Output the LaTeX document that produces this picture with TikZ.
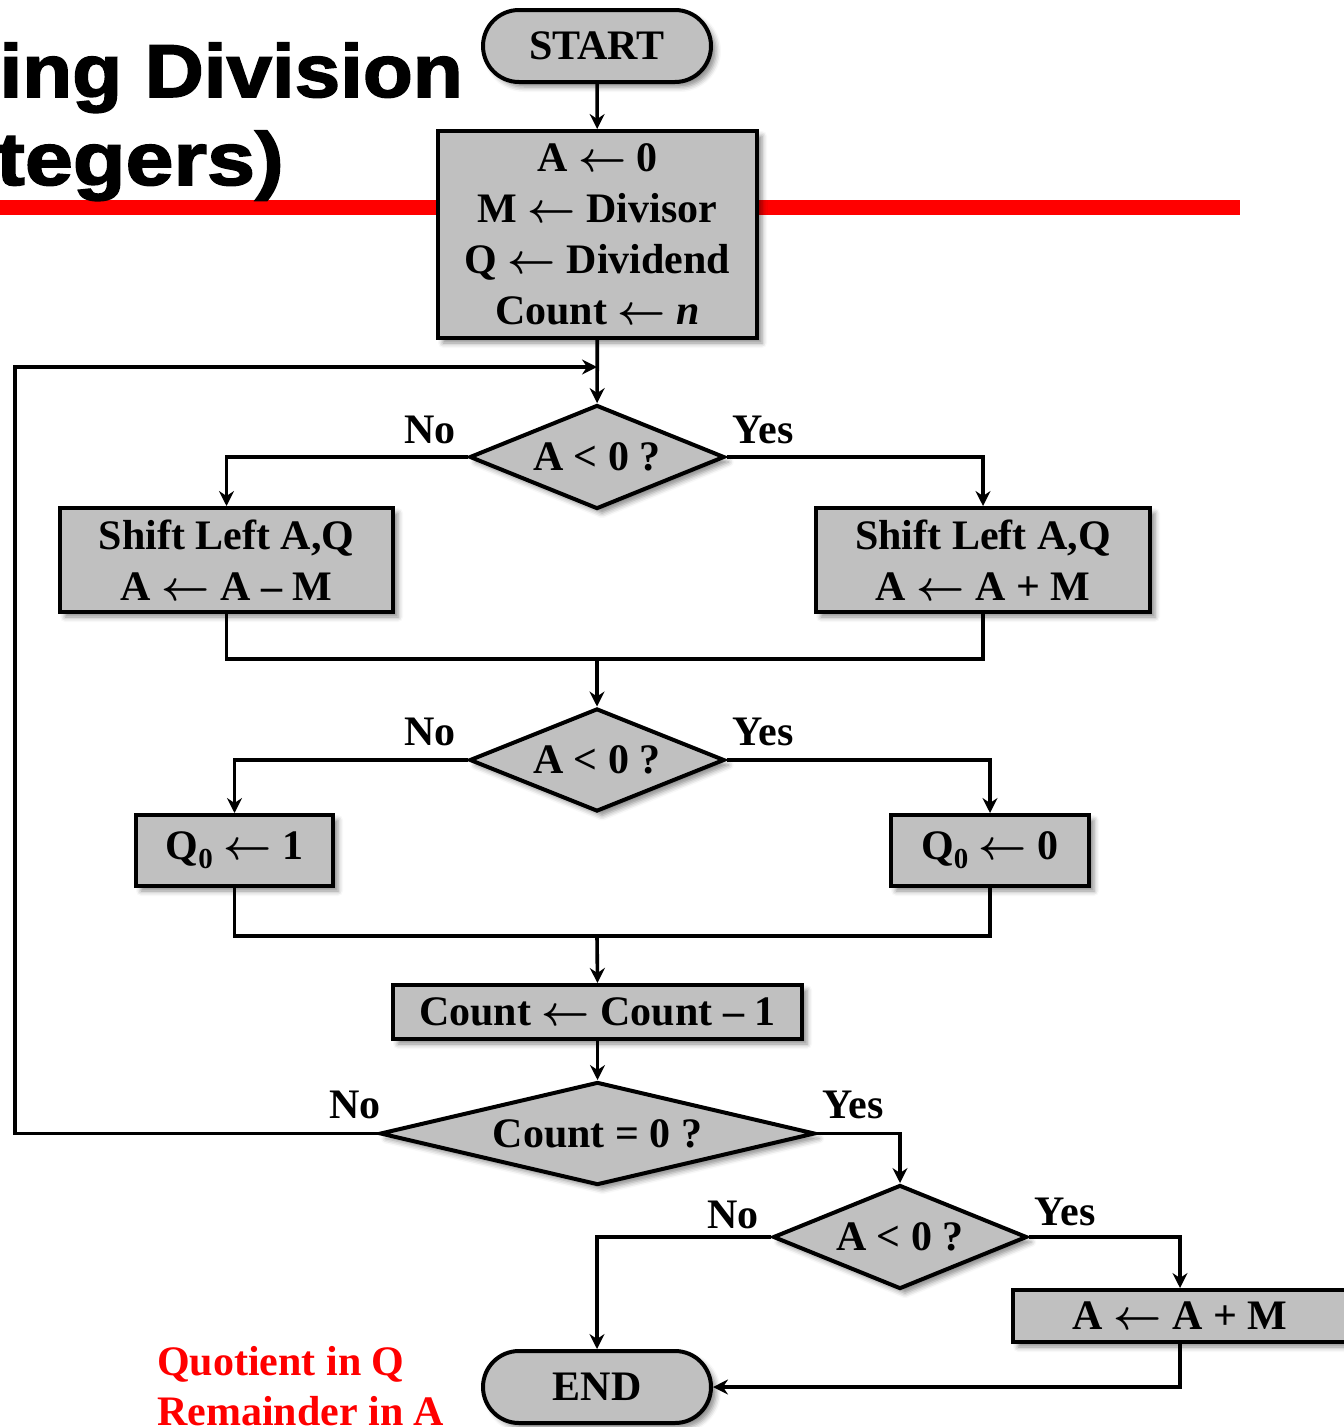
\RequirePackage{fix-cm}
\documentclass[tikz,border=0pt]{standalone}
\usepackage{fontspec}
\setmainfont{Liberation Serif}
\newfontfamily\titlefont{Liberation Sans}[BoldFeatures={FakeBold=2}]
\usetikzlibrary{arrows.meta,shapes.geometric,shadows.blur}

\definecolor{boxgray}{RGB}{192,192,192}
\definecolor{rulered}{RGB}{255,0,0}
\newcommand\chartfont{\fontsize{42}{51}\selectfont\bfseries}
\newcommand\subzero{\raisebox{-0.22em}{\fontsize{29}{29}\selectfont 0}}
\newcommand\assignto{{\boldmath$\leftarrow$}}

\begin{document}
\begin{tikzpicture}[x=1pt,y=-1pt,
  every node/.style={font=\chartfont},
  box/.style={draw=black, line width=4pt, fill=boxgray, inner sep=0pt,
    align=center,
    blur shadow={shadow xshift=5pt, shadow yshift=-5pt,
      shadow blur radius=5pt, shadow opacity=45}},
  proc/.style={box, rectangle},
  term/.style={box, rectangle, rounded corners=36pt},
  test/.style={box, diamond},
  conn/.style={line width=3.6pt},
  flow/.style={conn, -{Stealth[length=15pt,width=15pt,inset=5pt]}},
  tag/.style={inner sep=0pt}]

\useasboundingbox (0,0) rectangle (1344,1427);
\clip (0,0) rectangle (1344,1427);

% heading and its red rule
\fill[rulered] (0,200) rectangle (1240,215);
\node[anchor=base east, inner sep=0pt] (title1) at (463,97)
  {\titlefont\bfseries\fontsize{75}{75}\selectfont\scalebox{1.09}[1]{ing Division}};
\node[anchor=base east, inner sep=0pt] (title2) at (284,185)
  {\titlefont\bfseries\fontsize{75}{75}\selectfont\scalebox{1.15}[1]{tegers)}};

% flowchart blocks
\node[term, minimum width=228pt, minimum height=72pt] (start) at (597,46) {START};
\node[proc, minimum width=319pt, minimum height=207pt] (init) at (597.5,234.5)
  {A \assignto{} 0\\M \assignto{} Divisor\\Q \assignto{} Dividend\\Count \assignto{} \textit{n}};
\node[test, minimum width=255pt, minimum height=104pt, aspect=2.45] (d1) at (597,457) {A < 0 ?};
\node[proc, minimum width=333pt, minimum height=104pt] (sl) at (226.5,560)
  {Shift Left A,Q\\A \assignto{} A – M};
\node[proc, minimum width=334pt, minimum height=104pt] (sr) at (983,560)
  {Shift Left A,Q\\A \assignto{} A + M};
\node[test, minimum width=255pt, minimum height=103pt, aspect=2.45] (d2) at (597,760) {A < 0 ?};
\node[proc, minimum width=197pt, minimum height=71pt] (q1) at (234.5,850.5) {Q\subzero{} \assignto{} 1};
\node[proc, minimum width=198pt, minimum height=71pt] (q0) at (990,850.5) {Q\subzero{} \assignto{} 0};
\node[proc, minimum width=409pt, minimum height=54pt] (cnt) at (597.5,1012) {Count \assignto{} Count – 1};
\node[test, minimum width=435pt, minimum height=103pt, aspect=4.2] (d3) at (597.5,1133.5) {Count = 0 ?};
\node[test, minimum width=254pt, minimum height=104pt, aspect=2.45] (d4) at (900,1237) {A < 0 ?};
\node[proc, minimum width=334pt, minimum height=52pt] (fix) at (1180,1316) {A \assignto{} A + M};
\node[term, minimum width=228pt, minimum height=72pt] (end) at (597,1387) {END};

% branch labels
\node[tag] (no1) at (430,430) {No};
\node[tag] (yes1) at (763,430) {Yes};
\node[tag] (no2) at (430,732) {No};
\node[tag] (yes2) at (763,732) {Yes};
\node[tag] (no3) at (355,1105) {No};
\node[tag] (yes3) at (853,1105) {Yes};
\node[tag] (no4) at (733,1215) {No};
\node[tag] (yes4) at (1065,1212) {Yes};

% result note
\node[anchor=base west, inner sep=0pt, text=rulered] (note1) at (157,1375) {Quotient in Q};
\node[anchor=base west, inner sep=0pt, text=rulered] (note2) at (157,1425) {Remainder in A};

% junction points
\coordinate (join) at (597,367);
\coordinate (back) at (15,367);
\coordinate (m1) at (597,659);
\coordinate (m2) at (597,936);

% connectors
\draw[flow] (start) -- (init);
\draw[flow] (init) -- (d1);
\draw[flow] (d3.west) -| (back) -- (join);
\draw[flow] (d1.west) -| (sl.north);
\draw[flow] (d1.east) -| (sr.north);
\draw[conn] (sl.south) |- (m1);
\draw[conn] (sr.south) |- (m1);
\draw[flow] (m1) -- (d2.north);
\draw[flow] (d2.west) -| (q1.north);
\draw[flow] (d2.east) -| (q0.north);
\draw[conn] (q1.south) |- (m2);
\draw[conn] (q0.south) |- (m2);
\draw[flow] (m2) -- (cnt.north);
\draw[flow] (cnt) -- (d3);
\draw[flow] (d3.east) -| (d4.north);
\draw[flow] (d4.west) -| (end.north);
\draw[flow] (d4.east) -| (fix.north);
\draw[flow] (fix.south) |- (end.east);
\end{tikzpicture}
\end{document}
